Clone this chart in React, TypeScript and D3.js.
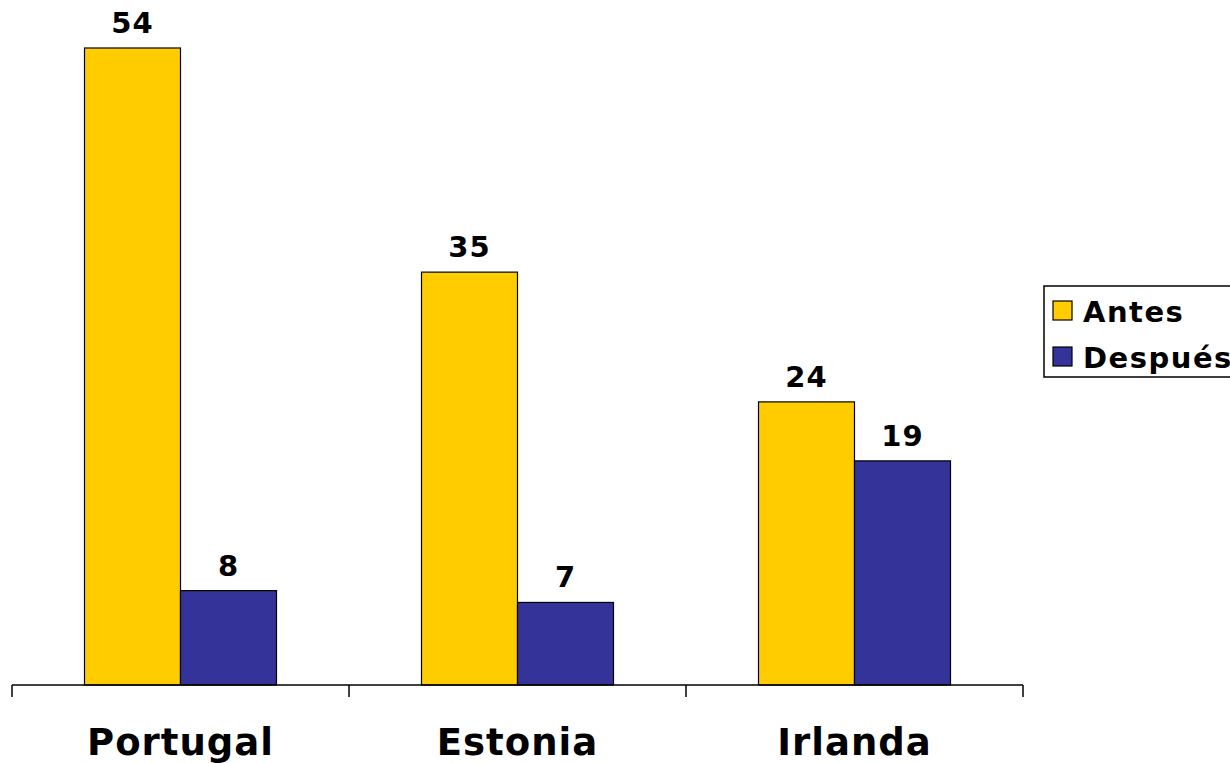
import { useRef, useEffect } from "react";
import * as d3 from "d3";

const categories = ["Portugal", "Estonia", "Irlanda"];
const seriesNames = ["Antes", "Después"];
const antes = [54, 35, 24];
const despues = [8, 7, 19];
const colors = ["#FFCC00", "#333399"];

const width = 1230;
const height = 763;

const App = () => {
  const svgRef = useRef<SVGSVGElement | null>(null);

  useEffect(() => {
    if (!svgRef.current) return;
    const svg = d3.select(svgRef.current);
    svg.selectAll("*").remove();

    const font = "'DejaVu Sans', Verdana, sans-serif";
    const baseY = 685;

    const x0 = d3.scaleBand<string>().domain(categories).range([12, 1023]);
    const step = 96;
    const po = (x0.bandwidth() / step - 2) / 2;
    const x1 = d3
      .scaleBand<string>()
      .domain(seriesNames)
      .range([0, x0.bandwidth()])
      .paddingInner(0)
      .paddingOuter(po);

    const y = d3.scaleLinear().domain([0, 54]).range([baseY, 48]);

    const rows = categories.map((c, i) => ({
      cat: c,
      values: [antes[i], despues[i]],
    }));

    const groups = svg
      .selectAll("g.grp")
      .data(rows)
      .enter()
      .append("g")
      .attr("class", "grp")
      .attr("transform", (d) => `translate(${x0(d.cat)},0)`);

    groups
      .selectAll("rect")
      .data((d) => d.values.map((v, j) => ({ v, s: seriesNames[j], j })))
      .enter()
      .append("rect")
      .attr("x", (d) => x1(d.s)!)
      .attr("y", (d) => y(d.v))
      .attr("width", x1.bandwidth())
      .attr("height", (d) => baseY - y(d.v))
      .attr("fill", (d) => colors[d.j])
      .attr("stroke", "#000")
      .attr("stroke-width", 1.2);

    groups
      .selectAll("text.val")
      .data((d) => d.values.map((v, j) => ({ v, s: seriesNames[j] })))
      .enter()
      .append("text")
      .attr("class", "val")
      .attr("x", (d) => x1(d.s)! + x1.bandwidth() / 2)
      .attr("y", (d) => y(d.v) - 15)
      .attr("text-anchor", "middle")
      .style("font-family", font)
      .style("font-weight", "bold")
      .style("font-size", "29px")
      .style("letter-spacing", "1px")
      .style("fill", "#000")
      .text((d) => d.v);

    // X axis
    const axis = svg.append("g");
    axis
      .append("line")
      .attr("x1", 12)
      .attr("x2", 1023)
      .attr("y1", baseY)
      .attr("y2", baseY)
      .attr("stroke", "#000")
      .attr("stroke-width", 1.5);
    const tickXs = [...categories.map((c) => x0(c)!), 1023];
    axis
      .selectAll("line.tick")
      .data(tickXs)
      .enter()
      .append("line")
      .attr("class", "tick")
      .attr("x1", (d) => d)
      .attr("x2", (d) => d)
      .attr("y1", baseY)
      .attr("y2", baseY + 12)
      .attr("stroke", "#000")
      .attr("stroke-width", 1.5);
    axis
      .selectAll("text")
      .data(categories)
      .enter()
      .append("text")
      .attr("x", (d) => x0(d)! + x0.bandwidth() / 2)
      .attr("y", 755)
      .attr("text-anchor", "middle")
      .style("font-family", font)
      .style("font-weight", "bold")
      .style("font-size", "37px")
      .style("letter-spacing", "1px")
      .style("fill", "#000")
      .text((d) => d);

    // Legend
    const lg = svg.append("g");
    lg.append("rect")
      .attr("x", 1044)
      .attr("y", 286)
      .attr("width", 200)
      .attr("height", 91)
      .attr("fill", "#fff")
      .attr("stroke", "#000")
      .attr("stroke-width", 1.5);
    seriesNames.forEach((s, i) => {
      const yy = 301 + i * 46;
      lg.append("rect")
        .attr("x", 1053)
        .attr("y", yy)
        .attr("width", 19)
        .attr("height", 19)
        .attr("fill", colors[i])
        .attr("stroke", "#000")
        .attr("stroke-width", 1.2);
      lg.append("text")
        .attr("x", 1083)
        .attr("y", yy + 21)
        .style("font-family", font)
        .style("font-weight", "bold")
        .style("font-size", "29px")
        .style("letter-spacing", "1.5px")
        .style("fill", "#000")
        .text(s);
    });
  }, []);

  return (
    <svg
      ref={svgRef}
      width={width}
      height={height}
      style={{ position: "absolute", left: 0, top: 0, background: "#fff" }}
    ></svg>
  );
};

export default App;
